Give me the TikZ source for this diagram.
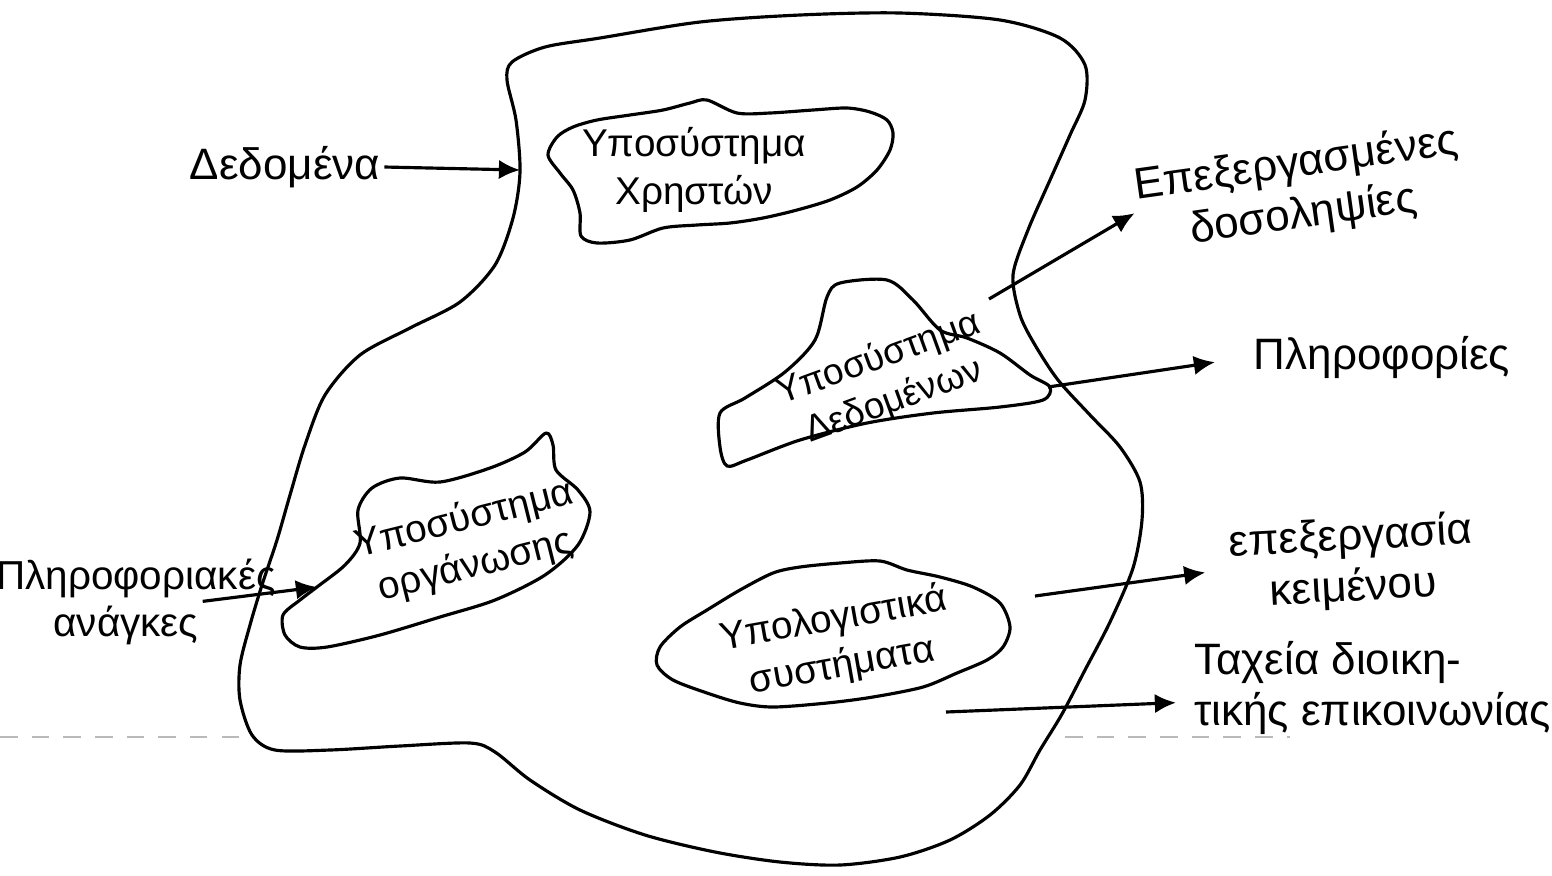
\documentclass[tikz,border=0pt]{standalone}
\usepackage{fontspec}
\setmainfont{Liberation Sans}
\usetikzlibrary{arrows.meta}
\tikzset{
    hand/.style={font=\fontsize{12.5}{14.5}\selectfont, align=center, inner sep=1pt},
    inblob/.style={font=\fontsize{11}{13.5}\selectfont, align=center, inner sep=1pt},
    outline/.style={line width=0.9pt, line join=round},
    flow/.style={line width=0.9pt, -{Latex[length=6pt,width=5.5pt]}},
    scan/.style={gray!55, line width=0.5pt, dash pattern=on 5pt off 4pt},
}
\begin{document}
\begin{tikzpicture}[x=0.01cm, y=-0.01cm]
    \useasboundingbox (0,0) rectangle (1552,875);
    \draw[scan] (0,737) -- (240,737);
    \draw[scan] (1065,737) -- (1290,737);
    \draw[outline] plot[smooth cycle] coordinates {(512,62) (545,47) (600,38) (700,22) (800,15) (900,13) (1000,20) (1060,38) (1085,65) (1085,100) (1070,135) (1050,180) (1028,230) (1013,275) (1020,315) (1035,345) (1058,380) (1090,415) (1120,447) (1140,482) (1142,520) (1133,568) (1110,622) (1085,670) (1062,714) (1040,750) (1020,785) (990,815) (950,840) (900,857) (840,865) (780,862) (715,852) (645,835) (580,810) (530,780) (495,752) (470,743) (400,746) (330,750) (275,750) (252,735) (240,700) (240,665) (250,625) (262,585) (277,540) (290,495) (305,445) (325,395) (360,355) (410,328) (460,302) (495,265) (513,218) (520,172) (516,120) (507,80)};
    \draw[outline] plot[smooth cycle] coordinates {(707,100) (737,113) (770,113) (813,110) (847,108) (870,112) (887,120) (893,133) (890,150) (877,170) (857,187) (830,200) (797,210) (763,218) (730,223) (697,225) (663,228) (630,240) (597,243) (581,236) (580,213) (573,190) (560,173) (548,155) (557,137) (573,127) (597,120) (630,115) (663,110) (690,103)};
    \draw[outline] plot[smooth cycle] coordinates {(827,297) (840,283) (887,280) (913,300) (940,330) (967,338) (1000,353) (1030,375) (1050,387) (1043,400) (1000,407) (933,413) (867,423) (800,440) (747,460) (727,466) (720,447) (720,413) (745,398) (785,372) (815,340)};
    \draw[outline] plot[smooth cycle] coordinates {(546,433) (553,445) (556,470) (578,490) (590,512) (578,545) (545,575) (495,600) (440,617) (380,635) (327,647) (300,647) (285,635) (283,615) (300,600) (317,587) (345,565) (360,543) (358,510) (372,488) (400,478) (440,482) (490,468) (525,452)};
    \draw[outline] plot[smooth cycle] coordinates {(800,567) (840,563) (880,561) (907,570) (940,577) (973,587) (1000,603) (1010,627) (1003,647) (987,660) (957,673) (923,687) (873,697) (827,703) (773,707) (740,703) (707,693) (673,680) (657,665) (660,647) (680,627) (707,610) (740,590) (773,573)};
    \node[inblob] (xriston) at (694,170) {Υποσύστημα\\Χρηστών};
    \node[inblob, rotate=20, font=\fontsize{10.5}{13}\selectfont] (dedomenon) at (886,380) {Υποσύστημα\\Δεδομένων};
    \node[inblob, rotate=14] (organosis) at (470,543) {Υποσύστημα\\οργάνωσης};
    \node[inblob, rotate=10] (ypologistika) at (838,643) {Υπολογιστικά\\συστήματα};
    \node[hand] (dedomena) at (285,167) {Δεδομένα};
    \node[hand, font=\fontsize{11.5}{13}\selectfont] (plirof) at (136,578) {Πληροφοριακές};
    \node[hand, font=\fontsize{11.5}{13}\selectfont] (anagkes) at (126,625) {ανάγκες};
    \node[hand, rotate=8] (epexergasmenes) at (1300,190) {Επεξεργασμένες\\δοσοληψίες};
    \node[hand] (plirofories) at (1382,357) {Πληροφορίες};
    \node[hand, rotate=3] (keimenou) at (1352,563) {επεξεργασία\\κειμένου};
    \node[hand, anchor=west, align=left] (taxeia) at (1190,688) {Ταχεία διοικη-\\τικής επικοινωνίας};
    \coordinate (inDed) at (520,170);
    \coordinate (inOrg) at (317,587);
    \coordinate (dataTip) at (1048,387);
    \coordinate (outEpex) at (989,299);
    \coordinate (outKeim) at (1035,596);
    \coordinate (outTax) at (946,712);
    \draw[flow] (dedomena.east) -- (inDed);
    \draw[flow] (anagkes.north east) -- (inOrg);
    \draw[flow] (outEpex) -- (epexergasmenes.west);
    \draw[flow, shorten >=10pt] (dataTip) -- (plirofories.west);
    \draw[flow, shorten >=6pt] (outKeim) -- (keimenou.west);
    \draw[flow, shorten >=4pt] (outTax) -- ([yshift=-4pt]taxeia.west);
\end{tikzpicture}
\end{document}
